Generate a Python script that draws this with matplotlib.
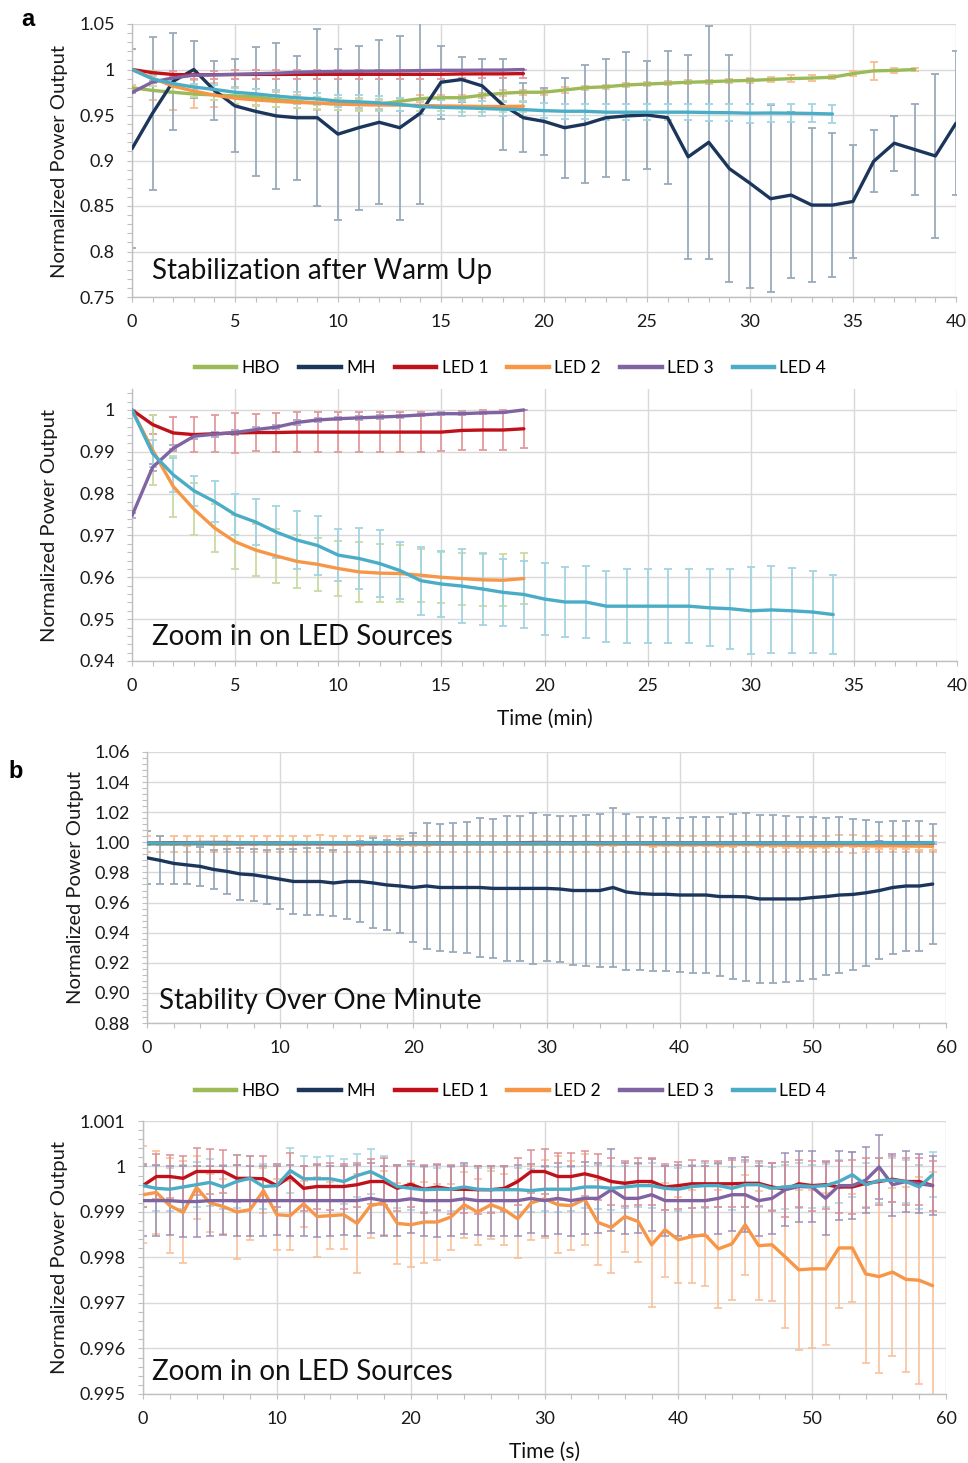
import matplotlib
matplotlib.use("Agg")
import matplotlib.pyplot as plt
from matplotlib.ticker import MultipleLocator
from matplotlib.lines import Line2D

plt.rcParams['font.family'] = ['Lato', 'DejaVu Sans']

# ---------------- Panel a : warm up (minutes) ----------------
t_mh_a = list(range(0, 41))
t_hbo_a = list(range(0, 39))
t_led_a = list(range(0, 20))
t_led4_a = list(range(0, 35))

MH_a = [0.913, 0.952, 0.987, 1.000, 0.977, 0.960, 0.954, 0.949, 0.947, 0.947,
        0.929, 0.936, 0.942, 0.936, 0.952, 0.986, 0.989, 0.982, 0.961, 0.947,
        0.943, 0.936, 0.940, 0.947, 0.949, 0.950, 0.947, 0.904, 0.920, 0.891,
        0.875, 0.858, 0.862, 0.851, 0.851, 0.855, 0.899, 0.919, 0.912, 0.905,
        0.941]
MH_a_sd = [0.109, 0.084, 0.053, 0.031, 0.032, 0.051, 0.071, 0.080, 0.068, 0.097,
           0.094, 0.090, 0.090, 0.101, 0.100, 0.040, 0.025, 0.029, 0.050, 0.038,
           0.037, 0.055, 0.065, 0.065, 0.070, 0.059, 0.073, 0.112, 0.128, 0.125,
           0.115, 0.103, 0.091, 0.085, 0.079, 0.062, 0.034, 0.030, 0.050, 0.090,
           0.079]

HBO_a = [0.980, 0.977, 0.975, 0.973, 0.972, 0.971, 0.970, 0.967, 0.965, 0.963,
         0.962, 0.962, 0.962, 0.965, 0.968, 0.969, 0.969, 0.9717, 0.974, 0.975,
         0.975, 0.9775, 0.980, 0.981, 0.983, 0.984, 0.985, 0.986, 0.9866, 0.9875,
         0.988, 0.989, 0.990, 0.9906, 0.9915, 0.9955, 0.9985, 0.999, 1.000]
HBO_a_sd = [0.003, 0.010, 0.020, 0.015, 0.013, 0.010, 0.009, 0.008, 0.007, 0.007,
            0.007, 0.006, 0.005, 0.004, 0.004, 0.003, 0.003, 0.003, 0.003, 0.003,
            0.003, 0.003, 0.002, 0.002, 0.002, 0.002, 0.002, 0.002, 0.002, 0.002,
            0.003, 0.003, 0.004, 0.003, 0.002, 0.003, 0.010, 0.003, 0.0015]

LED1_a = [1.000, 0.9965, 0.9945, 0.9941, 0.9943, 0.9945, 0.9946, 0.9946, 0.9947, 0.9947,
          0.9947, 0.9947, 0.9947, 0.9947, 0.9947, 0.9947, 0.9951, 0.9952, 0.9952, 0.9955]
LED1_a_sd = [0.0000, 0.0023, 0.0038, 0.0041, 0.0044, 0.0047, 0.0045, 0.0047, 0.0048, 0.0048,
             0.0048, 0.0048, 0.0047, 0.0047, 0.0047, 0.0046, 0.0047, 0.0047, 0.0048, 0.0045]

LED2_a = [1.000, 0.9904, 0.9817, 0.9763, 0.9718, 0.9685, 0.9665, 0.9651, 0.9638, 0.9631,
          0.9621, 0.9613, 0.9610, 0.9609, 0.9605, 0.9600, 0.9597, 0.9594, 0.9593, 0.9597]
LED2_a_sd = [0.0000, 0.0084, 0.0073, 0.0063, 0.0058, 0.0064, 0.0063, 0.0065, 0.0064, 0.0063,
             0.0066, 0.0071, 0.0069, 0.0069, 0.0063, 0.0061, 0.0062, 0.0062, 0.0062, 0.0061]

LED3_a = [0.9747, 0.9863, 0.9908, 0.9937, 0.9942, 0.9946, 0.9953, 0.9959, 0.9970, 0.9976,
          0.9979, 0.9981, 0.9983, 0.9985, 0.9988, 0.9991, 0.9991, 0.9993, 0.9994, 1.000]
LED3_a_sd = [0.0006, 0.0008, 0.0007, 0.0006, 0.0006, 0.0005, 0.0005, 0.0005, 0.0005, 0.0005,
             0.0004, 0.0004, 0.0004, 0.0004, 0.0003, 0.0003, 0.0003, 0.0002, 0.0002, 0.0000]

LED4_a = [1.000, 0.9896, 0.9845, 0.9807, 0.9781, 0.9750, 0.9732, 0.9708, 0.9689, 0.9676,
          0.9653, 0.9645, 0.9633, 0.9616, 0.9592, 0.9584, 0.9579, 0.9572, 0.9564, 0.9559,
          0.9548, 0.9541, 0.9541, 0.9531, 0.9531, 0.9531, 0.9531, 0.9531, 0.9527, 0.9525,
          0.9520, 0.9522, 0.9520, 0.9517, 0.9511]
LED4_a_sd = [0.0000, 0.0033, 0.0040, 0.0036, 0.0049, 0.0050, 0.0055, 0.0062, 0.0069, 0.0070,
             0.0062, 0.0072, 0.0080, 0.0068, 0.0081, 0.0080, 0.0088, 0.0086, 0.0080, 0.0080,
             0.0085, 0.0084, 0.0085, 0.0085, 0.0088, 0.0088, 0.0088, 0.0088, 0.0092, 0.0096,
             0.0104, 0.0104, 0.0102, 0.0099, 0.0094]

# ---------------- Panel b : one minute (seconds) ----------------
t_b = list(range(0, 60))

MH_b = [0.9897, 0.9880, 0.9860, 0.9850, 0.9840, 0.9820, 0.9807, 0.9790, 0.9784, 0.9770,
        0.9755, 0.9740, 0.9740, 0.9740, 0.9730, 0.9740, 0.9740, 0.9730, 0.9717, 0.9710,
        0.9700, 0.9710, 0.9700, 0.9700, 0.9700, 0.9700, 0.9694, 0.9694, 0.9694, 0.9694,
        0.9694, 0.9690, 0.9680, 0.9680, 0.9680, 0.9700, 0.9670, 0.9660, 0.9655, 0.9655,
        0.9650, 0.9650, 0.9650, 0.9640, 0.9640, 0.9638, 0.9624, 0.9624, 0.9624, 0.9624,
        0.9633, 0.9640, 0.9650, 0.9654, 0.9665, 0.9680, 0.9700, 0.9710, 0.9710, 0.9723]
MH_b_sd = [0.0177, 0.0160, 0.0140, 0.0130, 0.0130, 0.0130, 0.0150, 0.0170, 0.0174, 0.0180,
           0.0200, 0.0213, 0.0220, 0.0220, 0.0220, 0.0250, 0.0270, 0.0300, 0.0300, 0.0315,
           0.0360, 0.0420, 0.0420, 0.0430, 0.0436, 0.0460, 0.0464, 0.0480, 0.0480, 0.0500,
           0.0485, 0.0483, 0.0495, 0.0500, 0.0510, 0.0530, 0.0520, 0.0510, 0.0510, 0.0507,
           0.0513, 0.0515, 0.0520, 0.0530, 0.0546, 0.0560, 0.0556, 0.0556, 0.0554, 0.0547,
           0.0538, 0.0520, 0.0515, 0.0504, 0.0484, 0.0457, 0.0443, 0.0430, 0.0432, 0.0400]

HBO_b = [0.9990, 0.9989, 0.9988, 0.9990, 0.9989, 0.9989, 0.9988, 0.9989, 0.9990, 0.9989,
         0.9988, 0.9989, 0.9989, 0.9990, 0.9989, 0.9988, 0.9989, 0.9989, 0.9990, 0.9989,
         0.9988, 0.9989, 0.9989, 0.9990, 0.9988, 0.9989, 0.9989, 0.9990, 0.9989, 0.9988,
         0.9989, 0.9989, 0.9990, 0.9989, 0.9988, 0.9989, 0.9989, 0.9990, 0.9989, 0.9988,
         0.9989, 0.9989, 0.9990, 0.9989, 0.9988, 0.9989, 0.9989, 0.9990, 0.9989, 0.9988,
         0.9989, 0.9989, 0.9990, 0.9988, 0.9989, 0.9989, 0.9990, 0.9989, 0.9988, 0.9989]
HBO_b_sd = [0.0054, 0.0055, 0.0053, 0.0054, 0.0055, 0.0054, 0.0053, 0.0055, 0.0054, 0.0054,
            0.0053, 0.0055, 0.0054, 0.0056, 0.0054, 0.0053, 0.0055, 0.0054, 0.0054, 0.0053,
            0.0055, 0.0054, 0.0053, 0.0054, 0.0055, 0.0054, 0.0053, 0.0054, 0.0055, 0.0054,
            0.0053, 0.0054, 0.0055, 0.0054, 0.0053, 0.0056, 0.0054, 0.0053, 0.0054, 0.0055,
            0.0054, 0.0053, 0.0054, 0.0055, 0.0054, 0.0056, 0.0054, 0.0053, 0.0054, 0.0055,
            0.0054, 0.0053, 0.0056, 0.0058, 0.0054, 0.0053, 0.0055, 0.0054, 0.0053, 0.0054]

LED1_b = [0.99958, 0.99978, 0.99978, 0.99974, 0.99989, 0.99989, 0.99989, 0.99974, 0.99974, 0.99973,
          0.99958, 0.99978, 0.99952, 0.99956, 0.99956, 0.99956, 0.99960, 0.99967, 0.99967, 0.99952,
          0.99961, 0.99950, 0.99955, 0.99950, 0.99950, 0.99949, 0.99949, 0.99952, 0.99967, 0.99989,
          0.99989, 0.99978, 0.99978, 0.99984, 0.99977, 0.99967, 0.99963, 0.99967, 0.99967, 0.99955,
          0.99958, 0.99962, 0.99962, 0.99962, 0.99962, 0.99963, 0.99963, 0.99955, 0.99950, 0.99962,
          0.99958, 0.99960, 0.99955, 0.99955, 0.99963, 0.99967, 0.99972, 0.99967, 0.99967, 0.99958]
LED1_b_sd = [0.00048, 0.00050, 0.00047, 0.00049, 0.00052, 0.00050, 0.00048, 0.00051, 0.00049, 0.00050,
             0.00047, 0.00052, 0.00050, 0.00049, 0.00051, 0.00050, 0.00048, 0.00050, 0.00052, 0.00049,
             0.00050, 0.00053, 0.00051, 0.00054, 0.00052, 0.00053, 0.00051, 0.00050, 0.00052, 0.00048,
             0.00050, 0.00052, 0.00051, 0.00049, 0.00050, 0.00051, 0.00050, 0.00052, 0.00051, 0.00050,
             0.00052, 0.00053, 0.00051, 0.00050, 0.00052, 0.00051, 0.00050, 0.00052, 0.00060, 0.00052,
             0.00055, 0.00053, 0.00058, 0.00059, 0.00055, 0.00052, 0.00050, 0.00052, 0.00051, 0.00055]

LED2_b = [0.99938, 0.99943, 0.99914, 0.99899, 0.99954, 0.99920, 0.99912, 0.99900, 0.99905, 0.99947,
          0.99894, 0.99892, 0.99918, 0.99890, 0.99892, 0.99894, 0.99875, 0.99914, 0.99920, 0.99875,
          0.99872, 0.99878, 0.99878, 0.99889, 0.99916, 0.99900, 0.99916, 0.99905, 0.99885, 0.99920,
          0.99929, 0.99916, 0.99914, 0.99928, 0.99877, 0.99866, 0.99890, 0.99879, 0.99828, 0.99861,
          0.99839, 0.99846, 0.99850, 0.99819, 0.99830, 0.99872, 0.99826, 0.99828, 0.99801, 0.99773,
          0.99775, 0.99775, 0.99821, 0.99821, 0.99764, 0.99758, 0.99768, 0.99752, 0.99750, 0.99738]
LED2_b_sd = [0.00106, 0.00092, 0.00104, 0.00112, 0.00070, 0.00064, 0.00060, 0.00103, 0.00066, 0.00050,
             0.00078, 0.00076, 0.00051, 0.00088, 0.00073, 0.00075, 0.00108, 0.00071, 0.00070, 0.00089,
             0.00092, 0.00089, 0.00084, 0.00073, 0.00073, 0.00073, 0.00075, 0.00078, 0.00086, 0.00082,
             0.00086, 0.00106, 0.00098, 0.00100, 0.00093, 0.00099, 0.00077, 0.00088, 0.00136, 0.00103,
             0.00095, 0.00103, 0.00112, 0.00130, 0.00123, 0.00110, 0.00120, 0.00123, 0.00156, 0.00176,
             0.00174, 0.00167, 0.00132, 0.00119, 0.00196, 0.00212, 0.00185, 0.00203, 0.00228, 0.00250]

LED3_b = [0.99925, 0.99925, 0.99925, 0.99923, 0.99923, 0.99925, 0.99925, 0.99925, 0.99925, 0.99925,
          0.99925, 0.99925, 0.99925, 0.99925, 0.99925, 0.99925, 0.99925, 0.99930, 0.99925, 0.99925,
          0.99929, 0.99925, 0.99925, 0.99925, 0.99929, 0.99925, 0.99925, 0.99925, 0.99925, 0.99930,
          0.99925, 0.99930, 0.99925, 0.99930, 0.99930, 0.99949, 0.99930, 0.99930, 0.99938, 0.99925,
          0.99925, 0.99925, 0.99925, 0.99930, 0.99938, 0.99938, 0.99925, 0.99930, 0.99949, 0.99956,
          0.99955, 0.99930, 0.99958, 0.99958, 0.99970, 0.99999, 0.99960, 0.99967, 0.99962, 0.99958]
LED3_b_sd = [0.00077, 0.00078, 0.00076, 0.00077, 0.00079, 0.00077, 0.00076, 0.00078, 0.00077, 0.00077,
             0.00076, 0.00078, 0.00077, 0.00079, 0.00077, 0.00076, 0.00078, 0.00077, 0.00077, 0.00078,
             0.00076, 0.00077, 0.00079, 0.00077, 0.00078, 0.00076, 0.00077, 0.00077, 0.00078, 0.00076,
             0.00077, 0.00078, 0.00077, 0.00079, 0.00077, 0.00090, 0.00078, 0.00077, 0.00079, 0.00077,
             0.00078, 0.00076, 0.00077, 0.00078, 0.00080, 0.00082, 0.00077, 0.00078, 0.00080, 0.00079,
             0.00078, 0.00080, 0.00075, 0.00074, 0.00072, 0.00070, 0.00068, 0.00066, 0.00065, 0.00064]

LED4_b = [0.99958, 0.99952, 0.99950, 0.99955, 0.99960, 0.99965, 0.99955, 0.99967, 0.99974, 0.99956,
          0.99958, 0.99991, 0.99973, 0.99973, 0.99973, 0.99967, 0.99980, 0.99989, 0.99974, 0.99956,
          0.99952, 0.99949, 0.99950, 0.99950, 0.99955, 0.99950, 0.99949, 0.99949, 0.99949, 0.99947,
          0.99950, 0.99950, 0.99950, 0.99955, 0.99955, 0.99952, 0.99955, 0.99958, 0.99958, 0.99952,
          0.99950, 0.99956, 0.99958, 0.99958, 0.99952, 0.99960, 0.99960, 0.99952, 0.99955, 0.99958,
          0.99956, 0.99958, 0.99967, 0.99982, 0.99960, 0.99969, 0.99970, 0.99967, 0.99955, 0.99982]
LED4_b_sd = [0.00048, 0.00050, 0.00047, 0.00049, 0.00050, 0.00052, 0.00048, 0.00059, 0.00050, 0.00049,
             0.00048, 0.00050, 0.00049, 0.00047, 0.00049, 0.00050, 0.00048, 0.00050, 0.00049, 0.00047,
             0.00048, 0.00049, 0.00047, 0.00048, 0.00049, 0.00047, 0.00048, 0.00049, 0.00048, 0.00047,
             0.00048, 0.00049, 0.00048, 0.00047, 0.00049, 0.00048, 0.00047, 0.00048, 0.00049, 0.00048,
             0.00047, 0.00048, 0.00049, 0.00048, 0.00047, 0.00049, 0.00048, 0.00047, 0.00048, 0.00049,
             0.00048, 0.00047, 0.00048, 0.00050, 0.00048, 0.00049, 0.00048, 0.00047, 0.00048, 0.00049]

series_names = ["HBO", "MH", "LED 1", "LED 2", "LED 3", "LED 4"]

ya_top_ticks = [0.75, 0.80, 0.85, 0.90, 0.95, 1.00, 1.05]
ya_top_labels = ["0.75", "0.8", "0.85", "0.9", "0.95", "1", "1.05"]
ya_zoom_ticks = [0.94, 0.95, 0.96, 0.97, 0.98, 0.99, 1.00]
ya_zoom_labels = ["0.94", "0.95", "0.96", "0.97", "0.98", "0.99", "1"]
yb_top_ticks = [0.88, 0.90, 0.92, 0.94, 0.96, 0.98, 1.00, 1.02, 1.04, 1.06]
yb_top_labels = ["0.88", "0.90", "0.92", "0.94", "0.96", "0.98", "1.00", "1.02", "1.04", "1.06"]
yb_zoom_ticks = [0.995, 0.996, 0.997, 0.998, 0.999, 1.000, 1.001]
yb_zoom_labels = ["0.995", "0.996", "0.997", "0.998", "0.999", "1", "1.001"]

# ---------------- styles ----------------
C_HBO = '#9BBB59'
C_MH = '#1C365B'
C_L1 = '#C0111A'
C_L2 = '#F79646'
C_L3 = '#8064A2'
C_L4 = '#4BACC6'
E_MH = '#9AAABB'
E_ORANGE = '#F9BE92'
E_GREEN = '#C9DBA3'
E_RED = '#E39A9C'
E_PURPLE = '#B2A3C9'
E_CYAN = '#A2D4E2'
E_RED_B = '#D98C92'
E_PURPLE_B = '#9A8AB5'
LW = 2.4
TICK_FS = 13
YLAB_FS = 14.5
ANN_FS = 20

fig = plt.figure(figsize=(9.68, 14.63), dpi=100)
W, H = 968.0, 1463.0


def rect(l, r, t, b):
    return [l / W, 1 - b / H, (r - l) / W, (b - t) / H]


ax1 = fig.add_axes(rect(132, 956, 24, 297))
ax2 = fig.add_axes(rect(132, 957, 389, 661))
ax3 = fig.add_axes(rect(147, 946, 752, 1023))
ax4 = fig.add_axes(rect(143, 946, 1121, 1394))


def style(ax, xlim, ylim, xmaj, xmin, yt, yl, ymin):
    ax.set_xlim(*xlim)
    ax.set_ylim(*ylim)
    ax.xaxis.set_major_locator(MultipleLocator(xmaj))
    ax.xaxis.set_minor_locator(MultipleLocator(xmin))
    ax.set_yticks(yt)
    ax.set_yticklabels(yl)
    ax.yaxis.set_minor_locator(MultipleLocator(ymin))
    ax.grid(True, which='major', color='#d9d9d9', lw=1.0)
    ax.set_axisbelow(True)
    for s in ['top', 'right']:
        ax.spines[s].set_visible(False)
    for s in ['left', 'bottom']:
        ax.spines[s].set_color('#bfbfbf')
        ax.spines[s].set_linewidth(1.0)
    ax.tick_params(which='both', direction='out', length=3.5, width=0.8,
                   color='#bfbfbf', labelsize=TICK_FS, labelcolor='#1a1a1a')
    ax.tick_params(axis='y', which='major', pad=9)
    ax.tick_params(axis='x', which='major', pad=9)


def eb(ax, x, y, sd, color, z=2, alpha=1.0):
    ax.errorbar(x, y, yerr=sd, fmt='none', ecolor=color, elinewidth=1.3,
                capsize=3.2, capthick=1.3, zorder=z, alpha=alpha)


def ln(ax, x, y, color, z=3):
    ax.plot(x, y, color=color, lw=LW, zorder=z, solid_joinstyle='round',
            solid_capstyle='round')


# Panel a top
style(ax1, (0, 40), (0.75, 1.05), 5, 1, ya_top_ticks, ya_top_labels, 0.01)
eb(ax1, t_hbo_a, HBO_a, HBO_a_sd, E_ORANGE)
eb(ax1, t_mh_a, MH_a, MH_a_sd, E_MH)
eb(ax1, t_led_a, LED1_a, LED1_a_sd, E_RED)
eb(ax1, t_led_a, LED2_a, LED2_a_sd, E_GREEN)
eb(ax1, t_led_a, LED3_a, LED3_a_sd, E_PURPLE)
eb(ax1, t_led4_a, LED4_a, LED4_a_sd, E_CYAN)
ln(ax1, t_hbo_a, HBO_a, C_HBO)
ln(ax1, t_mh_a, MH_a, C_MH)
ln(ax1, t_led_a, LED1_a, C_L1)
ln(ax1, t_led_a, LED2_a, C_L2)
ln(ax1, t_led_a, LED3_a, C_L3)
ln(ax1, t_led4_a, LED4_a, C_L4)
ax1.text(0.024, 0.095, "Stabilization after Warm Up", transform=ax1.transAxes,
         fontsize=ANN_FS, va='center', ha='left', color='#111111')

# Panel a zoom
style(ax2, (0, 40), (0.94, 1.005), 5, 1, ya_zoom_ticks, ya_zoom_labels, 0.002)
eb(ax2, t_led_a, LED1_a, LED1_a_sd, E_RED)
eb(ax2, t_led_a, LED2_a, LED2_a_sd, E_GREEN)
eb(ax2, t_led_a, LED3_a, LED3_a_sd, E_PURPLE)
eb(ax2, t_led4_a, LED4_a, LED4_a_sd, E_CYAN)
ln(ax2, t_led_a, LED1_a, C_L1)
ln(ax2, t_led_a, LED2_a, C_L2)
ln(ax2, t_led_a, LED3_a, C_L3)
ln(ax2, t_led4_a, LED4_a, C_L4)
ax2.text(0.024, 0.088, "Zoom in on LED Sources", transform=ax2.transAxes,
         fontsize=ANN_FS, va='center', ha='left', color='#111111')

# Panel b top
style(ax3, (0, 60), (0.88, 1.06), 10, 2, yb_top_ticks, yb_top_labels, 0.004)
eb(ax3, t_b, HBO_b, HBO_b_sd, E_ORANGE)
eb(ax3, t_b, MH_b, MH_b_sd, E_MH)
eb(ax3, t_b, LED1_b, LED1_b_sd, E_RED)
eb(ax3, t_b, LED2_b, LED2_b_sd, E_ORANGE)
eb(ax3, t_b, LED3_b, LED3_b_sd, E_PURPLE)
eb(ax3, t_b, LED4_b, LED4_b_sd, E_CYAN)
ln(ax3, t_b, HBO_b, C_HBO)
ln(ax3, t_b, MH_b, C_MH)
ln(ax3, t_b, LED1_b, C_L1)
ln(ax3, t_b, LED2_b, C_L2)
ln(ax3, t_b, LED3_b, C_L3)
ln(ax3, t_b, LED4_b, C_L4)
ax3.text(0.015, 0.081, "Stability Over One Minute", transform=ax3.transAxes,
         fontsize=ANN_FS, va='center', ha='left', color='#111111')

# Panel b zoom
style(ax4, (0, 60), (0.995, 1.001), 10, 2, yb_zoom_ticks, yb_zoom_labels, 0.0002)
eb(ax4, t_b, LED2_b, LED2_b_sd, E_ORANGE, alpha=0.85)
eb(ax4, t_b, LED4_b, LED4_b_sd, E_CYAN, alpha=0.85)
eb(ax4, t_b, LED3_b, LED3_b_sd, E_PURPLE_B, alpha=0.8)
eb(ax4, t_b, LED1_b, LED1_b_sd, E_RED_B, alpha=0.8)
ln(ax4, t_b, LED1_b, C_L1)
ln(ax4, t_b, LED2_b, C_L2)
ln(ax4, t_b, LED3_b, C_L3)
ln(ax4, t_b, LED4_b, C_L4)
ax4.text(0.011, 0.081, "Zoom in on LED Sources", transform=ax4.transAxes,
         fontsize=ANN_FS, va='center', ha='left', color='#111111')

# x labels
fig.text(545 / W, 1 - 719 / H, "Time (min)", ha='center', va='center',
         fontsize=15, color='#111111')
fig.text(545 / W, 1 - 1452 / H, "Time (s)", ha='center', va='center',
         fontsize=15, color='#111111')

# y labels
for (xc, yc) in [(60, 161), (50, 525), (75, 888), (60, 1258)]:
    fig.text(xc / W, 1 - yc / H, "Normalized Power Output", rotation=90,
             ha='center', va='center', fontsize=YLAB_FS, color='#1a1a1a')

# legends
colors = [C_HBO, C_MH, C_L1, C_L2, C_L3, C_L4]
handles = [Line2D([0], [0], color=c, lw=3.2) for c in colors]
for yc in [368, 1091]:
    fig.legend(handles, series_names, loc='center', ncol=6,
               bbox_to_anchor=(510.5 / W, 1 - yc / H), frameon=False,
               fontsize=12.5, handlelength=2.4, handletextpad=0.3,
               columnspacing=1.1, borderaxespad=0)

# panel letters
fig.text(28 / W, 1 - 20 / H, "a", fontsize=17, fontweight='bold',
         family=['Liberation Sans', 'DejaVu Sans'], ha='center', va='center')
fig.text(16 / W, 1 - 771 / H, "b", fontsize=17, fontweight='bold',
         family=['Liberation Sans', 'DejaVu Sans'], ha='center', va='center')

fig.savefig("out.png", dpi=100)
